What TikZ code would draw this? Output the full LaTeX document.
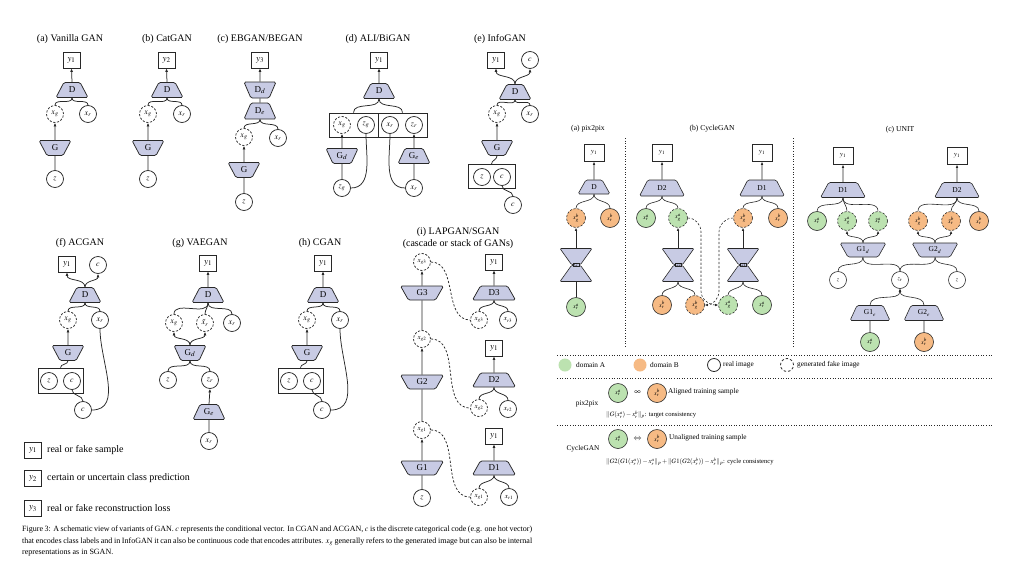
\documentclass[tikz,border=0pt]{standalone}
\usepackage{mathptmx}
\usepackage{fontspec}
\setmainfont{Liberation Serif}
\usetikzlibrary{shapes.geometric,arrows.meta,calc}
\definecolor{lav}{RGB}{200,203,228}
\definecolor{stk}{RGB}{40,40,40}
\definecolor{grn}{RGB}{188,226,176}
\definecolor{org}{RGB}{246,186,132}
\newcommand\hglass[4]{%
  \node[hgt] (#1t) at (#2,#3-8.5) {\rule{0pt}{2pt}};
  \node[hgb] (#1b) at (#2,#3+8.5) {\rule{0pt}{2pt}};
  \node[hgm] (#1m) at (#2,#3) {};
  \node[fs=4.5,inner sep=0] (#1) at (#2,#3) {#4};
}
\tikzset{
  fs/.style={font=\fontsize{#1}{#1}\selectfont},
  ln/.style={draw=stk,line width=0.75pt},
  rl/.style={draw=stk,line width=0.6pt},
  ar/.style={ln,-{Latex[length=3.5pt,width=3pt]}},
  rar/.style={rl,-{Latex[length=3pt,width=2.6pt]}},
  dsh/.style={ln,dash pattern=on 2.2pt off 1.8pt},
  dar/.style={rl,dash pattern=on 2.2pt off 1.8pt,-{Latex[length=3pt,width=2.6pt]}},
  fk/.style={out=-90,in=90},
  fu/.style={out=90,in=-90},
  ttl/.style={fs=10,inner sep=0},
  ybox/.style={ln,fill=white,minimum width=17pt,minimum height=16pt,inner sep=0,fs=9},
  cir/.style={circle,ln,fill=white,minimum size=17pt,inner sep=0,fs=8},
  fake/.style={dash pattern=on 2.2pt off 1.6pt},
  trp/.style={trapezium,trapezium stretches=true,ln,fill=lav,rounded corners=1.5pt,inner sep=0,minimum width=32pt,minimum height=15pt,fs=9},
  dtr/.style={trp,trapezium left angle=62,trapezium right angle=62},
  gtr/.style={trp,trapezium left angle=118,trapezium right angle=118},
  wide/.style={minimum width=43pt,minimum height=14pt},
  grp/.style={ln,minimum width=45pt,minimum height=25pt,inner sep=0},
  rttl/.style={fs=7.6,inner sep=0},
  rybox/.style={rl,fill=white,minimum width=20pt,minimum height=17pt,inner sep=0,fs=7},
  rcir/.style={circle,rl,minimum size=19pt,inner sep=0,fs=6},
  rdtr/.style={dtr,rl,minimum width=45pt,minimum height=15pt,fs=7.5},
  rgtr/.style={gtr,rl,minimum width=46pt,minimum height=14pt,fs=7.5},
  hgt/.style={trapezium,trapezium stretches=true,rl,fill=lav,rounded corners=1pt,inner sep=1pt,minimum width=32pt,minimum height=16pt,trapezium left angle=122,trapezium right angle=122},
  hgb/.style={hgt,trapezium left angle=58,trapezium right angle=58},
  hgm/.style={rectangle,draw=stk,line width=0.4pt,fill=lav,minimum width=6pt,minimum height=3.2pt,inner sep=0},
  lgt/.style={fs=7.3,inner sep=0,anchor=west},
}
\begin{document}
\begin{tikzpicture}[x=1pt,y=-1pt]
\fill[white] (0,0) rectangle (1024,576);
\useasboundingbox (0,0) rectangle (1024,576);

% ---------- titles ----------
\node[ttl] (ta) at (70,39) {(a) Vanilla GAN};
\node[ttl] (tb) at (167,39) {(b) CatGAN};
\node[ttl] (tc) at (260,39) {(c) EBGAN/BEGAN};
\node[ttl] (td) at (378,39) {(d) ALI/BiGAN};
\node[ttl] (te) at (500,39) {(e) InfoGAN};
\node[ttl] (tf) at (80,243) {(f) ACGAN};
\node[ttl] (tg) at (200,243) {(g) VAEGAN};
\node[ttl] (th) at (320,243) {(h) CGAN};
\node[ttl] (ti) at (458,232) {(i) LAPGAN/SGAN};
\node[ttl] (ti2) at (458,244) {(cascade or stack of GANs)};

% ---------- (a) ----------
\node[ybox] (ay) at (71.5,60) {$y_1$};
\node[dtr] (aD) at (72,90) {D};
\node[cir,fake] (axg) at (55,114) {$x_g$};
\node[cir] (axr) at (88,114) {$x_r$};
\node[gtr] (aG) at (55,148) {G};
\node[cir] (az) at (55,179) {$z$};
\draw[ar] (aD.north) -- (ay.south);
\draw[ln] (aD.south) to[fk] (axg.north);
\draw[ln] (aD.south) to[fk] (axr.north);
\draw[ar] (aG.north) -- (axg.south);
\draw[ln] (az.north) -- (aG.south);

% ---------- (b) ----------
\node[ybox] (by) at (166.5,60) {$y_2$};
\node[dtr] (bD) at (167,90) {D};
\node[cir,fake] (bxg) at (148,114) {$x_g$};
\node[cir] (bxr) at (182,114) {$x_r$};
\node[gtr] (bG) at (148,148) {G};
\node[cir] (bz) at (148,179) {$z$};
\draw[ar] (bD.north) -- (by.south);
\draw[ln] (bD.south) to[fk] (bxg.north);
\draw[ln] (bD.south) to[fk] (bxr.north);
\draw[ar] (bG.north) -- (bxg.south);
\draw[ln] (bz.north) -- (bG.south);

% ---------- (c) ----------
\node[ybox] (cy) at (260,60) {$y_3$};
\node[gtr,minimum height=16pt] (cDd) at (260,90) {D$_d$};
\node[dtr,minimum height=16pt] (cDe) at (260,111) {D$_e$};
\node[cir,fake] (cxg) at (244,137) {$x_g$};
\node[cir] (cxr) at (278,138) {$x_r$};
\node[gtr] (cG) at (244,170) {G};
\node[cir] (cz) at (244,202) {$z$};
\draw[ar] (cDd.north) -- (cy.south);
\draw[ln] (cDe.north) -- (cDd.south);
\draw[ln] (cDe.south) to[fk] (cxg.north);
\draw[ln] (cDe.south) to[fk] (cxr.north);
\draw[ar] (cG.north) -- (cxg.south);
\draw[ln] (cz.north) -- (cG.south);

% ---------- (d) ----------
\node[ybox] (dy) at (379,60) {$y_1$};
\node[dtr] (dD) at (379,91) {D};
\node[ln,minimum width=49pt,minimum height=24pt,inner sep=0] (dbl) at (353.5,125) {};
\node[ln,minimum width=49pt,minimum height=24pt,inner sep=0] (dbr) at (402.5,125) {};
\node[cir,fake] (dxg) at (342,125) {$x_g$};
\node[cir] (dzg) at (366,125) {$z_g$};
\node[cir] (dxr) at (390,125) {$x_r$};
\node[cir] (dzr) at (414,125) {$z_r$};
\node[gtr] (dGd) at (342,156) {G$_d$};
\node[dtr] (dGe) at (414,156) {G$_e$};
\node[cir] (dzg2) at (342,188) {$z_g$};
\node[cir] (dxr2) at (414,188) {$x_r$};
\draw[ar] (dD.north) -- (dy.south);
\draw[ln] (dD.south) to[fk] (dbl.north);
\draw[ln] (dD.south) to[fk] (dbr.north);
\draw[ar] (dGd.north) -- (dxg.south);
\draw[ln] (dzg2.north) -- (dGd.south);
\draw[ln] (dzg2.east) to[out=0,in=-90] (dzg.south);
\draw[ar] (dGe.north) -- (dzr.south);
\draw[ln] (dxr2.north) -- (dGe.south);
\draw[ln] (dxr2.west) to[out=180,in=-90] (dxr.south);

% ---------- (e) ----------
\node[ybox] (ey) at (496,60) {$y_1$};
\node[cir] (ec) at (530,60) {$c$};
\node[dtr] (eD) at (515,92) {D};
\node[cir,fake] (exg) at (497,114) {$x_g$};
\node[cir] (exr) at (530,114) {$x_r$};
\node[gtr] (eG) at (497,148) {G};
\node[ln,minimum width=47pt,minimum height=24pt,inner sep=0] (ebox) at (491.5,176.5) {};
\node[cir] (ez) at (482,177) {$z$};
\node[cir] (ec2) at (502,177) {$c$};
\node[cir] (ec3) at (513,205) {$c$};
\draw[ar] (eD.north) to[fu] (ey.south);
\draw[ar] (eD.north) to[fu] (ec.south);
\draw[ln] (eD.south) to[fk] (exg.north);
\draw[ln] (eD.south) to[fk] (exr.north);
\draw[ar] (eG.north) -- (exg.south);
\draw[ln] (eG.south) to[fk] (ebox.north);
\draw[ln] (ec3.north) to[fu] (ec2.south);

% ---------- (f) ----------
\node[ybox] (fy) at (67,264) {$y_1$};
\node[cir] (fc) at (98,265) {$c$};
\node[dtr] (fD) at (85,295) {D};
\node[cir,fake] (fxg) at (68,320) {$x_g$};
\node[cir] (fxr) at (100,320) {$x_r$};
\node[gtr] (fG) at (68,353) {G};
\node[grp] (fbox) at (60.5,380.5) {};
\node[cir] (fz) at (49,381) {$z$};
\node[cir] (fc2) at (72,381) {$c$};
\node[cir] (fc3) at (83,410) {$c$};
\draw[ar] (fD.north) to[fu] (fy.south);
\draw[ar] (fD.north) to[fu] (fc.south);
\draw[ln] (fD.south) to[fk] (fxg.north);
\draw[ln] (fD.south) to[fk] (fxr.north);
\draw[ar] (fG.north) -- (fxg.south);
\draw[ln] (fG.south) to[fk] (fbox.north);
\draw[ln] (fc3.north) to[fu] (fc2.south);
\draw[ln] (fxr.south) to[out=-90,in=0] (fc3.east);

% ---------- (g) ----------
\node[ybox] (gy) at (208,263) {$y_1$};
\node[dtr] (gD) at (208,295) {D};
\node[cir,fake] (gxg) at (174,323) {$x_g$};
\node[cir,fake] (gxt) at (205,323) {$\tilde{x}_r$};
\node[cir] (gxr) at (232,323) {$x_r$};
\node[gtr] (gGd) at (190,353) {G$_d$};
\node[cir] (gz) at (168,380) {$z$};
\node[cir] (gzr) at (210,380) {$z_r$};
\node[dtr] (gGe) at (209,412) {G$_e$};
\node[cir] (gxr2) at (209,441) {$x_r$};
\draw[ar] (gD.north) -- (gy.south);
\draw[ln] (gD.south) to[fk] (gxg.north);
\draw[ln] (gD.south) to[fk] (gxt.north);
\draw[ln] (gD.south) to[fk] (gxr.north);
\draw[ar] (gGd.north) to[fu] (gxg.south);
\draw[ar] (gGd.north) to[fu] (gxt.south);
\draw[ln] (gGd.south) to[fk] (gz.north);
\draw[ln] (gGd.south) to[fk] (gzr.north);
\draw[ar] (gGe.north) -- (gzr.south);
\draw[ln] (gxr2.north) -- (gGe.south);

% ---------- (h) ----------
\node[ybox] (hy) at (323,263) {$y_1$};
\node[dtr] (hD) at (323,295) {D};
\node[cir,fake] (hxg) at (307,320) {$x_g$};
\node[cir] (hxr) at (340,320) {$x_r$};
\node[gtr] (hG) at (307,353) {G};
\node[grp] (hbox) at (300.5,380.5) {};
\node[cir] (hz) at (289,381) {$z$};
\node[cir] (hc2) at (312,381) {$c$};
\node[cir] (hc3) at (322,410) {$c$};
\draw[ar] (hD.north) -- (hy.south);
\draw[ln] (hD.south) to[fk] (hxg.north);
\draw[ln] (hD.south) to[fk] (hxr.north);
\draw[ar] (hG.north) -- (hxg.south);
\draw[ln] (hG.south) to[fk] (hbox.north);
\draw[ln] (hc3.north) to[fu] (hc2.south);
\draw[ln] (hxr.south) to[out=-90,in=0] (hc3.east);

% ---------- (i) ----------
\node[cir,fake,fs=7] (ig3) at (422,262) {$x_{g3}$};
\node[gtr,wide] (iG3) at (422,293) {G3};
\node[cir,fake,fs=7] (ig2) at (422,339) {$x_{g2}$};
\node[gtr,wide] (iG2) at (422,382) {G2};
\node[cir,fake,fs=7] (ig1) at (422,430) {$x_{g1}$};
\node[gtr,wide] (iG1) at (422,468) {G1};
\node[cir] (iz) at (422,498) {$z$};
\node[ybox] (iy3) at (494,262) {$y_1$};
\node[dtr,wide] (iD3) at (494,293) {D3};
\node[cir,fake,fs=7] (irg3) at (479,320) {$x_{g3}$};
\node[cir,fs=7] (ir3) at (508,320) {$x_{r3}$};
\node[ybox] (iy2) at (494,348) {$y_1$};
\node[dtr,wide] (iD2) at (494,380) {D2};
\node[cir,fake,fs=7] (irg2) at (479,408) {$x_{g2}$};
\node[cir,fs=7] (ir2) at (508,409) {$x_{r2}$};
\node[ybox] (iy1) at (494,436) {$y_1$};
\node[dtr,wide] (iD1) at (494,468) {D1};
\node[cir,fake,fs=7] (irg1) at (479,497) {$x_{g1}$};
\node[cir,fs=7] (ir1) at (509,497) {$x_{r1}$};
\draw[ar] (iG3.north) -- (ig3.south);
\draw[ln] (ig2.north) -- (iG3.south);
\draw[ar] (iG2.north) -- (ig2.south);
\draw[ln] (ig1.north) -- (iG2.south);
\draw[ar] (iG1.north) -- (ig1.south);
\draw[ln] (iz.north) -- (iG1.south);
\draw[ar] (iD3.north) -- (iy3.south);
\draw[ln] (iD3.south) to[fk] (irg3.north);
\draw[ln] (iD3.south) to[fk] (ir3.north);
\draw[ar] (iD2.north) -- (iy2.south);
\draw[ln] (iD2.south) to[fk] (irg2.north);
\draw[ln] (iD2.south) to[fk] (ir2.north);
\draw[ar] (iD1.north) -- (iy1.south);
\draw[ln] (iD1.south) to[fk] (irg1.north);
\draw[ln] (iD1.south) to[fk] (ir1.north);
\draw[dsh] (ig3.east) to[out=0,in=180] (irg3.west);
\draw[dsh] (ig2.east) to[out=0,in=180] (irg2.west);
\draw[dsh] (ig1.east) to[out=0,in=180] (irg1.west);

% ---------- left legend ----------
\node[ybox] (l1) at (33,450) {$y_1$};
\node[ybox] (l2) at (33,478.5) {$y_2$};
\node[ybox] (l3) at (33,508.5) {$y_3$};
\node[fs=10,inner sep=0,anchor=west] (l1t) at (47,450) {real or fake sample};
\node[fs=10,inner sep=0,anchor=west] (l2t) at (47,478.5) {certain or uncertain class prediction};
\node[fs=10,inner sep=0,anchor=west] (l3t) at (47,508.5) {real or fake reconstruction loss};

% ---------- caption ----------
\node[anchor=north west,text width=510pt,align=justify,inner sep=0,font=\fontsize{8}{11.5}\selectfont] (cap) at (22,526)
{Figure 3: A schematic view of variants of GAN. $c$ represents the conditional vector. In CGAN and ACGAN, $c$ is the discrete categorical code (e.g. one hot vector)\linebreak
that encodes class labels and in InfoGAN it can also be continuous code that encodes attributes. $x_g$ generally refers to the generated image but can also be internal\linebreak
representations as in SGAN.};

% ================= right figure =================
\node[rttl] (rta) at (588,129) {(a) pix2pix};
\node[rttl] (rtb) at (712,129) {(b) CycleGAN};
\node[rttl] (rtc) at (900,130) {(c) UNIT};
\draw[stk,line width=0.6pt,dotted] (625,138) -- (625,348);
\draw[stk,line width=0.6pt,dotted] (793,138) -- (793,348);

% pix2pix
\node[rybox] (py) at (594,153) {$y_1$};
\node[rdtr,minimum width=32pt,minimum height=14pt] (pD) at (594,187) {D};
\node[rcir,fake,fill=org] (pxg) at (576,218) {$x^b_g$};
\node[rcir,fill=org] (pxr) at (610,218) {$x^b_r$};
\hglass{pG}{576}{265}{G}
\node[rcir,fill=grn] (pxa) at (576,307) {$x^a_r$};
\draw[rar] (pD.north) -- (py.south);
\draw[rl] (pD.south) to[fk] (pxg.north);
\draw[rl] (pD.south) to[fk] (pxr.north);
\draw[rar] (pGt.north) -- (pxg.south);
\draw[rl] (pxa.north) -- (pGb.south);

% CycleGAN left
\node[rybox] (cly) at (662,153) {$y_1$};
\node[rdtr,minimum height=16pt] (clD) at (662,188) {D2};
\node[rcir,fill=grn] (clxra) at (646,218) {$x^a_r$};
\node[rcir,fake,fill=grn] (clxga) at (678,218) {$x^a_g$};
\hglass{clG}{678}{265}{G2}
\node[rcir,fill=org] (clxrb) at (662,305) {$x^b_r$};
\node[rcir,fake,fill=org] (clxgb) at (695,305) {$x^b_g$};
\draw[rar] (clD.north) -- (cly.south);
\draw[rl] (clD.south) to[fk] (clxra.north);
\draw[rl] (clD.south) to[fk] (clxga.north);
\draw[rar] (clGt.north) -- (clxga.south);
\draw[rl] (clGb.south) to[fk] (clxrb.north);
\draw[rl] (clGb.south) to[fk] (clxgb.north);
% CycleGAN right
\node[rybox] (cry) at (762,153) {$y_1$};
\node[rdtr,minimum height=16pt] (crD) at (762,188) {D1};
\node[rcir,fake,fill=org] (crxgb) at (743,218) {$x^b_g$};
\node[rcir,fill=org] (crxrb) at (778,218) {$x^b_r$};
\hglass{crG}{743}{265}{G1}
\node[rcir,fake,fill=grn] (crxga) at (728,305) {$x^a_g$};
\node[rcir,fill=grn] (crxra) at (762,305) {$x^a_r$};
\draw[rar] (crD.north) -- (cry.south);
\draw[rl] (crD.south) to[fk] (crxgb.north);
\draw[rl] (crD.south) to[fk] (crxrb.north);
\draw[rar] (crGt.north) -- (crxgb.south);
\draw[rl] (crGb.south) to[fk] (crxga.north);
\draw[rl] (crGb.south) to[fk] (crxra.north);
\coordinate (ca1) at (701,232);
\coordinate (ca2) at (701,291);
\coordinate (cb1) at (719,232);
\coordinate (cb2) at (719,291);
\draw[dar] (clxga.east) to[out=0,in=90] (ca1) -- (ca2) to[out=-90,in=180] (crxga.west);
\draw[dar] (crxgb.west) to[out=180,in=90] (cb1) -- (cb2) to[out=-90,in=0] (clxgb.east);

% UNIT
\node[rybox] (uly) at (843,156) {$y_1$};
\node[rdtr] (uD1) at (843,190) {D1};
\node[rcir,fill=grn] (uxra) at (817,221) {$x^a_r$};
\node[rcir,fake,fill=grn] (uxga) at (847,221) {$x^a_g$};
\node[rcir,fake,fill=grn] (uxta) at (878,221) {$\tilde{x}^a_r$};
\node[rgtr] (uG1d) at (863,250) {G1$_d$};
\node[rybox] (ury) at (957,156) {$y_1$};
\node[rdtr] (uD2) at (957,190) {D2};
\node[rcir,fake,fill=org] (uxgb) at (918,221) {$x^b_g$};
\node[rcir,fake,fill=org] (uxtb) at (951,221) {$\tilde{x}^b_r$};
\node[rcir,fill=org] (uxrb) at (979,221) {$x^b_r$};
\node[rgtr] (uG2d) at (935,250) {G2$_d$};
\node[cir,rl,fs=6] (uzl) at (838,280) {$z$};
\node[cir,rl,fs=6] (uzr) at (900,280) {$z_r$};
\node[cir,rl,fs=6] (uzR) at (957,280) {$z$};
\node[rdtr,minimum width=40pt] (uG1e) at (870,313) {G1$_e$};
\node[rdtr,minimum width=40pt] (uG2e) at (924,313) {G2$_e$};
\node[rcir,fill=grn] (uxa) at (870,342) {$x^a_r$};
\node[rcir,fill=org] (uxb) at (924,342) {$x^b_r$};
\draw[rar] (uD1.north) -- (uly.south);
\draw[rl] (uD1.south) to[fk] (uxra.north);
\draw[rl] (uD1.south) to[fk] (uxga.north);
\draw[rl] (uD1.south) to[fk] (uxta.north);
\draw[rar] (uG1d.north) to[fu] (uxga.south);
\draw[rar] (uG1d.north) to[fu] (uxta.south);
\draw[rl] (uG1d.south) to[fk] (uzl.north);
\draw[rl] (uG1d.south) to[fk] (uzr.north);
\draw[rar] (uD2.north) -- (ury.south);
\draw[rl] (uD2.south) to[fk] (uxgb.north);
\draw[rl] (uD2.south) to[fk] (uxtb.north);
\draw[rl] (uD2.south) to[fk] (uxrb.north);
\draw[rar] (uG2d.north) to[fu] (uxgb.south);
\draw[rar] (uG2d.north) to[fu] (uxtb.south);
\draw[rl] (uG2d.south) to[fk] (uzr.north);
\draw[rl] (uG2d.south) to[fk] (uzR.north);
\draw[rar] (uG1e.north) to[fu] (uzr.south);
\draw[rar] (uG2e.north) to[fu] (uzr.south);
\draw[rl] (uxa.north) -- (uG1e.south);
\draw[rl] (uxb.north) -- (uG2e.south);

% ---------- right legend ----------
\draw[stk,line width=0.6pt,dotted] (557,355) -- (992,355);
\draw[stk,line width=0.6pt,dotted] (557,378) -- (992,378);
\draw[stk,line width=0.6pt,dotted] (557,425) -- (992,425);
\node[circle,fill=grn,minimum size=13pt,inner sep=0] (lga) at (565,365) {};
\node[lgt] (lgat) at (576,365) {domain A};
\node[circle,fill=org,minimum size=13pt,inner sep=0] (lgb) at (640,365) {};
\node[lgt] (lgbt) at (650,365) {domain B};
\node[circle,draw=stk,line width=0.8pt,minimum size=13pt,inner sep=0] (lgr) at (714,365) {};
\node[lgt] (lgrt) at (723,365) {real image};
\node[circle,draw=stk,line width=0.8pt,dash pattern=on 2.5pt off 2pt,minimum size=13pt,inner sep=0] (lgf) at (787,365) {};
\node[lgt] (lgft) at (797,365) {generated fake image};

\node[rcir,fill=grn] (p2a) at (618,393) {$x^a_r$};
\node[fs=9,inner sep=0] (p2s) at (637.5,393) {$\infty$};
\node[rcir,fill=org] (p2b) at (657,393) {$x^b_r$};
\node[lgt] (p2t) at (668,392) {Aligned training sample};
\node[fs=7.3,inner sep=0] (p2l) at (587,404) {pix2pix};
\node[lgt,fs=6.6] (p2f) at (606,415) {$\|G(x^a_r)-x^b_r\|_p$: target consistency};

\node[rcir,fill=grn] (cga) at (618,439) {$x^a_r$};
\node[fs=8,inner sep=0] (cgs) at (637.5,439) {$\Leftrightarrow$};
\node[rcir,fill=org] (cgb) at (657,439) {$x^b_r$};
\node[lgt] (cgt) at (669,438) {Unaligned training sample};
\node[fs=7.3,inner sep=0] (cgl) at (583,449) {CycleGAN};
\node[lgt,fs=6.6] (cgf) at (606,462) {$\|G2(G1(x^a_r))-x^a_r\|_p+\|G1(G2(x^b_r))-x^b_r\|_p$: cycle consistency};
\end{tikzpicture}
\end{document}
